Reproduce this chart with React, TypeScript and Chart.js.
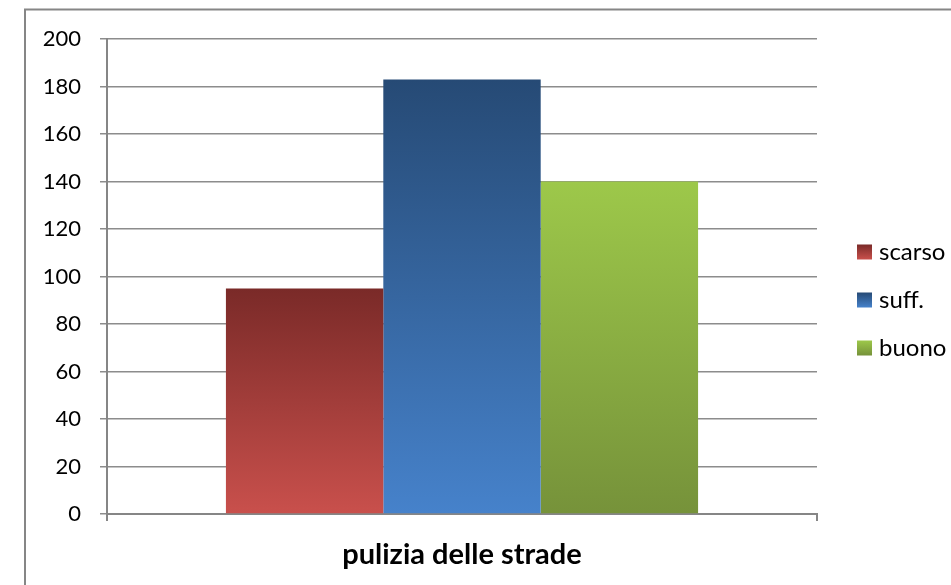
import React, { useEffect, useRef } from "react";
import { Chart, registerables } from "chart.js";

Chart.register(...registerables);

const categories = ["pulizia delle strade"];
const seriesNames = ["scarso", "suff.", "buono"];
const scarsoValues = [95];
const suffValues = [183];
const buonoValues = [140];
const yTicks = [0, 20, 40, 60, 80, 100, 120, 140, 160, 180, 200];

const FONT = "Lato, 'Open Sans', sans-serif";
const gradStops: [string, string][] = [
  ["#7a2a28", "#c9504c"],
  ["#264a75", "#4682cb"],
  ["#9dc84a", "#76923a"],
];

export default function App() {
  const ref = useRef<HTMLCanvasElement | null>(null);
  useEffect(() => {
    const canvas = ref.current!;
    const makeBg = (i: number) => (c: any) => {
      const chart = c.chart;
      const ys = chart.scales && chart.scales.y;
      if (!ys || !chart.chartArea) return gradStops[i][1];
      const v = c.raw as number;
      const top = ys.getPixelForValue(v);
      const bottom = ys.getPixelForValue(0);
      const g = chart.ctx.createLinearGradient(0, top, 0, bottom);
      g.addColorStop(0, gradStops[i][0]);
      g.addColorStop(1, gradStops[i][1]);
      return g;
    };
    const decor = {
      id: "decor",
      afterDraw(chart: any) {
        const ctx = chart.ctx;
        ctx.save();
        ctx.strokeStyle = "#868686";
        ctx.lineWidth = 2;
        ctx.beginPath();
        ctx.moveTo(25, 600);
        ctx.lineTo(25, 9.5);
        ctx.lineTo(960, 9.5);
        ctx.stroke();
        const centers = [252, 300, 348];
        seriesNames.forEach((name, i) => {
          const cy = centers[i];
          const g = ctx.createLinearGradient(0, cy - 7.5, 0, cy + 7.5);
          g.addColorStop(0, gradStops[i][0]);
          g.addColorStop(1, gradStops[i][1]);
          ctx.fillStyle = g;
          ctx.fillRect(857, cy - 7.5, 15, 15);
          ctx.fillStyle = "#000";
          ctx.font = `24px ${FONT}`;
          ctx.textBaseline = "middle";
          ctx.textAlign = "left";
          ctx.fillText(name, 879, cy);
        });
        ctx.restore();
      },
    };
    const chart = new Chart(canvas, {
      type: "bar",
      data: {
        labels: categories,
        datasets: [
          { label: seriesNames[0], data: scarsoValues, backgroundColor: makeBg(0) },
          { label: seriesNames[1], data: suffValues, backgroundColor: makeBg(1) },
          { label: seriesNames[2], data: buonoValues, backgroundColor: makeBg(2) },
        ],
      },
      options: {
        responsive: false,
        animation: false,
        devicePixelRatio: 1,
        layout: { padding: { top: 39, right: 134, left: 0, bottom: 0 } },
        datasets: { bar: { categoryPercentage: 0.665, barPercentage: 1 } },
        plugins: { legend: { display: false }, tooltip: { enabled: false } },
        scales: {
          x: {
            grid: { drawOnChartArea: false, drawTicks: true, tickLength: 7, color: "#868686", lineWidth: 2 },
            border: { color: "#868686", width: 2 },
            ticks: { color: "#000", font: { family: FONT, size: 29, weight: "bold" }, padding: 16 },
            afterFit: (s: any) => { s.height = 71; },
          },
          y: {
            min: 0,
            max: 200,
            afterBuildTicks: (s: any) => { s.ticks = yTicks.map((v) => ({ value: v })); },
            grid: { color: "#8c8c8c", lineWidth: 1.5, tickLength: 7 },
            border: { color: "#868686", width: 2 },
            ticks: { color: "#000", font: { family: FONT, size: 22 }, padding: 19 },
            afterFit: (s: any) => { s.width = 107; },
          },
        },
      },
      plugins: [decor],
    });
    return () => chart.destroy();
  }, []);
  return (
    <div style={{ position: "absolute", left: 0, top: 0, width: 951, height: 585, background: "#fff" }}>
      <canvas ref={ref} width={951} height={585} style={{ width: 951, height: 585, display: "block" }} />
    </div>
  );
}
